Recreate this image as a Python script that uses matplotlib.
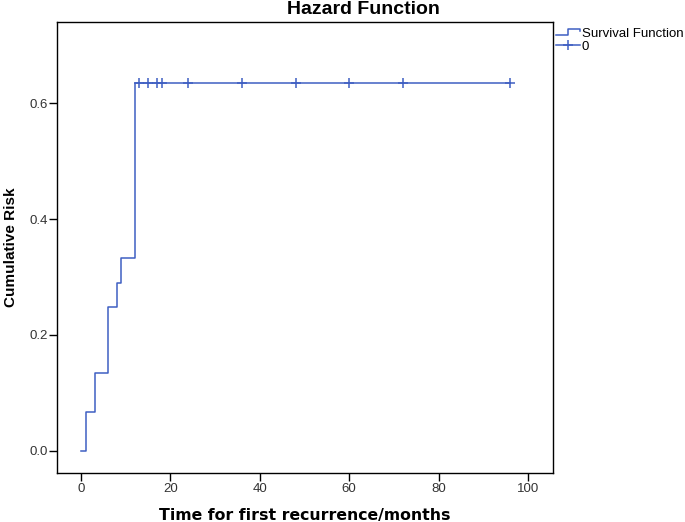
import matplotlib
matplotlib.use("Agg")
import matplotlib.pyplot as plt
from matplotlib.lines import Line2D
from matplotlib.legend_handler import HandlerBase

plt.rcParams['font.family'] = ['Liberation Sans', 'DejaVu Sans']

# Step data (time in months, cumulative risk)
step_times = [0, 1, 3, 6, 8, 9, 12, 96]
step_risk = [0.0, 0.067, 0.135, 0.248, 0.290, 0.332, 0.634, 0.634]
# Censored observations
censor_times = [13, 15, 17, 18, 24, 36, 48, 60, 72, 96]
censor_risk = [0.634] * len(censor_times)

xticks = [0, 20, 40, 60, 80, 100]
yticks = [0.0, 0.2, 0.4, 0.6]

color = '#3F5FC2'

fig = plt.figure(figsize=(6.85, 5.22), dpi=100)
ax = fig.add_axes([0.0832, 0.094, 0.724, 0.864])

ax.step(step_times, step_risk, where='post', color=color, lw=1.1)
ax.plot(censor_times, censor_risk, ls='none', marker='+', ms=7, mew=1.1, color=color)

ax.set_xlim(-5.4, 105.6)
ax.set_ylim(-0.038, 0.74)
ax.set_xticks(xticks)
ax.set_xticklabels([str(t) for t in xticks])
ax.set_yticks(yticks)
ax.set_yticklabels([f"{t:.1f}" for t in yticks])
ax.tick_params(direction='out', length=5.5, width=1, labelsize=9.5, colors='black', labelcolor='#333333')
ax.tick_params(axis='x', pad=2)
ax.tick_params(axis='y', pad=1)
for s in ax.spines.values():
    s.set_linewidth(1)
fig.text(0.531, 0.982, 'Hazard Function', fontsize=14, fontweight='bold', ha='center', va='center')
ax.set_xlabel('Time for first recurrence/months', fontsize=11.3, fontweight='bold',
              family=['DejaVu Sans'], labelpad=9)
ax.set_ylabel('Cumulative Risk', fontsize=11, fontweight='bold', labelpad=8.5)


class StepHandler(HandlerBase):
    def create_artists(self, legend, orig_handle, xdescent, ydescent, width, height, fontsize, trans):
        x0, x1 = -xdescent, -xdescent + width
        xm = x0 + width * 0.5
        yl = -ydescent + height * 0.2
        yh = -ydescent + height * 0.85
        ln = Line2D([x0, xm, xm, x1, x1], [yl, yl, yh, yh, yh - height * 0.25],
                    color=color, lw=1.1, transform=trans)
        return [ln]


h1 = Line2D([], [], color=color)
h2 = Line2D([0], [0], color=color, lw=1.1, marker='+', ms=7, mew=1.1)
fig.legend([h1, h2], ['Survival Function', '0'],
           handler_map={h1: StepHandler()},
           loc='upper left', bbox_to_anchor=(0.808, 0.952), frameon=False,
           fontsize=9.5, handlelength=1.8, handletextpad=0.15, labelspacing=0.05,
           borderaxespad=0, borderpad=0.2)

fig.savefig('out.png', dpi=100)
